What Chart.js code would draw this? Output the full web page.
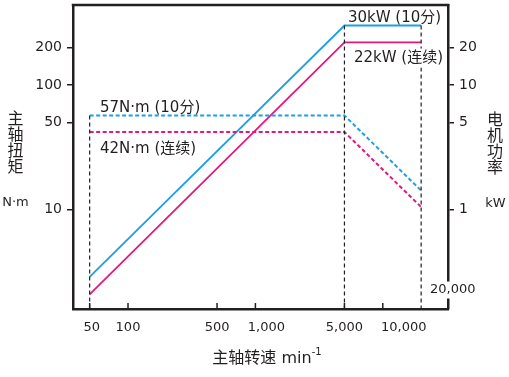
<!DOCTYPE html>
<html>
<head>
<meta charset="utf-8">
<script src="https://cdn.jsdelivr.net/npm/chart.js@4/dist/chart.umd.min.js"></script>
<style>
  body { margin: 0; background: #fff; }
</style>
</head>
<body>
<canvas id="chart" width="509" height="377"></canvas>
<script>
// spindle speed (min-1) and the curves
const speed = [50, 5000, 20000];
const torque10min = [57, 57, 14.25];   // N·m
const torqueCont = [42, 42, 10.5];     // N·m
const power10min = [0.29, 30, 30];     // kW
const powerCont = [0.21, 22, 22];      // kW

const xTicks = [50, 100, 500, 1000, 5000, 10000];
const torqueTicks = [10, 50, 100, 200];
const powerTicks = [1, 5, 10, 20];

const BLUE = '#1e9fe3';
const PINK = '#e2197b';
const INK = '#231f20';
const FONT = '"DejaVu Sans", "Noto Sans CJK SC", sans-serif';

const pts = (xs, ys) => xs.map((x, i) => ({ x: x, y: ys[i] }));

function textBox(ctx, str, x, y, size) {
    ctx.font = size + 'px ' + FONT;
    const w = ctx.measureText(str).width;
    ctx.fillStyle = '#fff';
    ctx.fillRect(x - 2, y - size / 2 - 2, w + 4, size + 4);
    ctx.fillStyle = INK;
    ctx.fillText(str, x, y);
}

// the speed labels with commas sit a bit right of their tick
const labelShift = { 50: 2, 1000: 11, 10000: 21 };

const decorations = {
    id: 'decorations',
    afterDraw(chart) {
        const ctx = chart.ctx;
        const a = chart.chartArea;
        const xs = chart.scales.x;
        ctx.save();
        // top frame line
        ctx.strokeStyle = INK;
        ctx.lineWidth = 2.5;
        ctx.beginPath();
        ctx.moveTo(a.left - 1.25, a.top);
        ctx.lineTo(a.right + 1.25, a.top);
        ctx.stroke();
        // inward ticks and labels on the speed axis
        ctx.lineWidth = 1.5;
        ctx.fillStyle = INK;
        ctx.textAlign = 'center';
        ctx.textBaseline = 'middle';
        ctx.font = '13px ' + FONT;
        xs.ticks.forEach(t => {
            const px = xs.getPixelForValue(t.value);
            ctx.beginPath();
            ctx.moveTo(px, a.bottom);
            ctx.lineTo(px, a.bottom - 6);
            ctx.stroke();
            ctx.fillText(t.value.toLocaleString('en-US'), px + (labelShift[t.value] || 0), a.bottom + 19);
        });

        ctx.textAlign = 'left';
        ctx.font = '15px ' + FONT;
        ctx.fillText('57N·m (10分)', 100, 108);
        ctx.fillText('42N·m (连续)', 100, 149);
        ctx.fillText('30kW (10分)', 348, 18);
        textBox(ctx, '22kW (连续)', 354, 58, 15);
        textBox(ctx, '20,000', 430, 290, 13);

        // axis titles
        ctx.textAlign = 'center';
        ctx.font = '16px ' + FONT;
        ['主', '轴', '扭', '矩'].forEach((c, i) => ctx.fillText(c, 15.5, 120 + i * 16));
        ['电', '机', '功', '率'].forEach((c, i) => ctx.fillText(c, 495, 121 + i * 16));
        ctx.font = '13px ' + FONT;
        ctx.fillText('N·m', 15.5, 203);
        ctx.fillText('kW', 495.5, 204);

        ctx.textAlign = 'left';
        ctx.font = '16px ' + FONT;
        const main = '主轴转速 min';
        const w = ctx.measureText(main).width;
        const x0 = 266 - (w + 8) / 2;
        ctx.fillText(main, x0, 359);
        ctx.font = '10px ' + FONT;
        ctx.fillText('-1', x0 + w, 352);
        ctx.restore();
    }
};

function lineSet(data, axis, color, dashed) {
    return {
        data: data,
        yAxisID: axis,
        borderColor: color,
        borderWidth: dashed ? 2 : 1.8,
        borderDash: dashed ? [4, 2.5] : [],
        pointRadius: 0,
        tension: 0,
        fill: false
    };
}

function guide(x, yTop, yBottom, axis) {
    return {
        data: [{ x: x, y: yTop }, { x: x, y: yBottom }],
        yAxisID: axis,
        borderColor: INK,
        borderWidth: 1.2,
        borderDash: [4, 3],
        pointRadius: 0,
        fill: false
    };
}

function noPad(s) {
    s.paddingTop = 0;
    s.paddingBottom = 0;
    s.paddingLeft = 0;
    s.paddingRight = 0;
}

new Chart(document.getElementById('chart'), {
    type: 'line',
    data: {
        datasets: [
            guide(speed[0], torque10min[0], 1.6, 'y'),
            guide(speed[1], power10min[1], 0.16, 'y2'),
            guide(speed[2], power10min[2], 0.16, 'y2'),
            lineSet(pts(speed, torque10min), 'y', BLUE, true),
            lineSet(pts(speed, torqueCont), 'y', PINK, true),
            lineSet(pts(speed, power10min), 'y2', BLUE, false),
            lineSet(pts(speed, powerCont), 'y2', PINK, false)
        ]
    },
    options: {
        responsive: false,
        animation: false,
        layout: { padding: { top: 5, left: 0, right: 0, bottom: 0 } },
        plugins: { legend: { display: false }, tooltip: { enabled: false } },
        scales: {
            x: {
                type: 'logarithmic',
                min: 37,
                max: 32500,
                afterBuildTicks: s => { s.ticks = xTicks.map(v => ({ value: v })); },
                afterFit: s => { s.height = 68; noPad(s); },
                border: { display: true, color: INK, width: 2.5 },
                grid: { drawOnChartArea: false, drawTicks: false },
                ticks: { display: false }
            },
            y: {
                type: 'logarithmic',
                position: 'left',
                min: 1.6,
                max: 438,
                afterBuildTicks: s => { s.ticks = torqueTicks.map(v => ({ value: v })); },
                afterFit: s => { s.width = 73; noPad(s); },
                border: { display: true, color: INK, width: 2.5 },
                grid: { drawOnChartArea: false, color: INK, lineWidth: 1.5, tickLength: 6 },
                ticks: {
                    padding: 5,
                    autoSkip: false,
                    color: INK,
                    font: { family: FONT, size: 14 },
                    callback: v => String(v)
                }
            },
            y2: {
                type: 'logarithmic',
                position: 'right',
                min: 0.16,
                max: 43.8,
                afterBuildTicks: s => { s.ticks = powerTicks.map(v => ({ value: v })); },
                afterFit: s => { s.width = 61; noPad(s); },
                border: { display: true, color: INK, width: 2.5 },
                grid: { drawOnChartArea: false, color: INK, lineWidth: 1.5, tickLength: 6 },
                ticks: {
                    padding: 5,
                    autoSkip: false,
                    color: INK,
                    font: { family: FONT, size: 14 },
                    callback: v => String(v)
                }
            }
        }
    },
    plugins: [decorations]
});
</script>
</body>
</html>
